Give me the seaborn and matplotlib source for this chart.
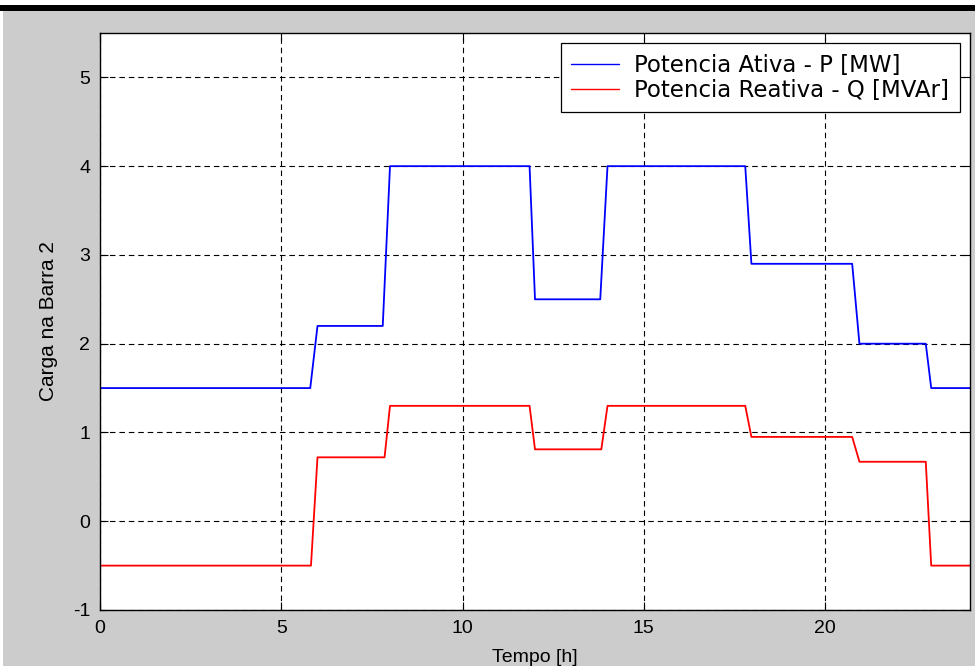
import pandas as pd
import matplotlib.pyplot as plt
from matplotlib.patches import Rectangle
import seaborn as sns

# load profile (time in hours)
tempo_p = [0, 5.8, 6.0, 7.8, 8.0, 11.85, 12.0, 13.8, 14.0, 17.8, 17.97, 20.75, 20.95, 22.78, 22.93, 24]
pot_ativa = [1.5, 1.5, 2.2, 2.2, 4.0, 4.0, 2.5, 2.5, 4.0, 4.0, 2.9, 2.9, 2.0, 2.0, 1.5, 1.5]

tempo_q = [0, 5.82, 6.0, 7.85, 8.0, 11.85, 12.0, 13.83, 14.0, 17.8, 17.97, 20.75, 20.95, 22.78, 22.93, 24]
pot_reativa = [-0.5, -0.5, 0.72, 0.72, 1.3, 1.3, 0.81, 0.81, 1.3, 1.3, 0.95, 0.95, 0.67, 0.67, -0.5, -0.5]

series_names = ["Potencia Ativa - P [MW]", "Potencia Reativa - Q [MVAr]"]
x_ticks = [0, 5, 10, 15, 20]
y_ticks = [-1, 0, 1, 2, 3, 4, 5]

df = pd.concat([
    pd.DataFrame({"tempo": tempo_p, "valor": pot_ativa, "serie": series_names[0]}),
    pd.DataFrame({"tempo": tempo_q, "valor": pot_reativa, "serie": series_names[1]}),
])

sns.set_style("ticks")
plt.rcParams["font.family"] = ["Liberation Sans", "DejaVu Sans"]
plt.rcParams["text.color"] = "black"
plt.rcParams["axes.labelcolor"] = "black"
plt.rcParams["axes.unicode_minus"] = False

fig = plt.figure(figsize=(9.75, 6.66), dpi=100)
fig.patch.set_facecolor("white")
# MATLAB-style grey window with black bar on top
fig.patches.append(Rectangle((3 / 975, 0), 1, (666 - 11) / 666, transform=fig.transFigure,
                             facecolor="#cccccc", edgecolor="none", zorder=-10))
fig.patches.append(Rectangle((0, (666 - 11) / 666), 1, 6 / 666, transform=fig.transFigure,
                             facecolor="black", edgecolor="none", zorder=-9))

ax = fig.add_axes([100 / 975, 56 / 666, 870 / 975, 577 / 666])
sns.lineplot(data=df, x="tempo", y="valor", hue="serie", palette=["#0000ff", "#ff0000"],
             estimator=None, sort=False, linewidth=1.3, ax=ax)

ax.set_xlim(0, 24)
ax.set_ylim(-1, 5.5)
ax.set_xticks(x_ticks)
ax.set_yticks(y_ticks)
ax.grid(True, color="black", linestyle=(0, (5, 3.5)), linewidth=0.8)
ax.tick_params(direction="in", top=True, right=True, length=6, width=0.8,
               labelsize=14, pad=7, colors="black")
for s in ax.spines.values():
    s.set_color("black")
    s.set_linewidth(1.0)

ax.set_xlabel("Tempo [h]", fontsize=14, labelpad=9)
ax.set_ylabel("Carga na Barra 2", fontsize=15, labelpad=11)

leg = ax.legend(loc="upper right", prop={"family": "DejaVu Sans", "size": 16.5},
                frameon=True, fancybox=False, edgecolor="black", framealpha=1,
                borderpad=0.45, handlelength=2.1, labelspacing=0.1,
                borderaxespad=0.45, handletextpad=0.65)
leg.get_frame().set_linewidth(0.9)
for line in leg.get_lines():
    line.set_linewidth(1.0)

fig.savefig("out.png", dpi=100)
